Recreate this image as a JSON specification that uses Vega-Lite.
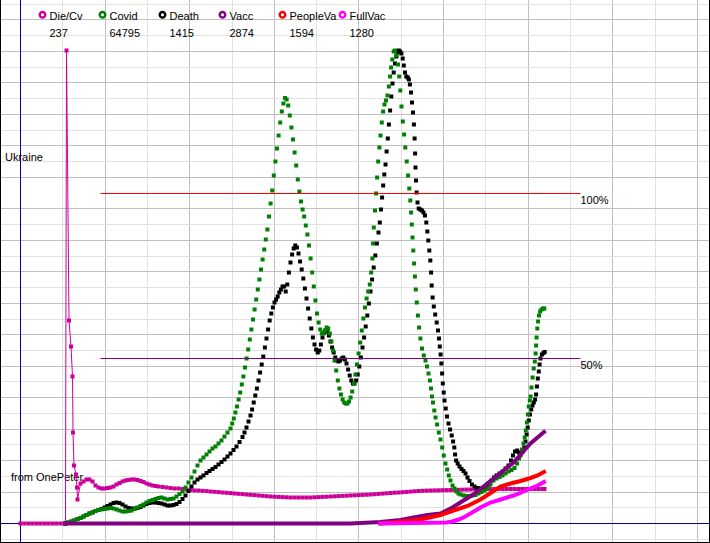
{
"$schema":"https://vega.github.io/schema/vega-lite/v6.json",
"width":710,"height":543,"padding":0,"autosize":{"type":"none"},
"background":"white",
"config":{"view":{"stroke":null},"text":{"font":"Liberation Sans"}},
"datasets":{
"gridx":[{"t":0},{"t":42},{"t":85},{"t":127},{"t":169},{"t":212},{"t":254},{"t":296},{"t":338},{"t":381},{"t":423},{"t":465},{"t":508},{"t":550},{"t":592},{"t":635},{"t":677}],
"gridy":[{"v":-16},{"v":16},{"v":31},{"v":47},{"v":63},{"v":79},{"v":94},{"v":110},{"v":126},{"v":142},{"v":157},{"v":173},{"v":189},{"v":204},{"v":220},{"v":236},{"v":252},{"v":267},{"v":283},{"v":299},{"v":315},{"v":346},{"v":362},{"v":378},{"v":393},{"v":409},{"v":425},{"v":441},{"v":456},{"v":472},{"v":488},{"v":504},{"v":519}],
"framex":[{"t":-20},{"t":689}],
"framey":[{"v":-19}],
"diecv":[{"t":0,"v":0},{"t":4,"v":0},{"t":8,"v":0},{"t":12,"v":0},{"t":16,"v":0},{"t":20,"v":0},{"t":24,"v":0},{"t":28,"v":0},{"t":32,"v":0},{"t":36,"v":0},{"t":40,"v":0},{"t":44,"v":0},{"t":45,"v":0},{"t":46,"v":473},{"t":48.5,"v":203},{"t":50.5,"v":177},{"t":52,"v":147},{"t":52.5,"v":91},{"t":53.5,"v":58},{"t":55.5,"v":49},{"t":56.5,"v":36},{"t":57,"v":24},{"t":60,"v":40},{"t":63,"v":42},{"t":66,"v":44},{"t":69,"v":44},{"t":72,"v":42},{"t":75,"v":38},{"t":78,"v":36},{"t":81,"v":35},{"t":84,"v":35},{"t":87,"v":35.5},{"t":90,"v":36},{"t":93,"v":37},{"t":96,"v":39},{"t":99,"v":40.5},{"t":102,"v":42},{"t":105,"v":43},{"t":108,"v":43.5},{"t":111,"v":44},{"t":114,"v":44},{"t":117,"v":43.5},{"t":120,"v":42.5},{"t":123,"v":41.5},{"t":126,"v":40},{"t":129,"v":39},{"t":132,"v":38},{"t":135,"v":37.5},{"t":138,"v":37},{"t":142,"v":36.5},{"t":146,"v":36},{"t":150,"v":35.5},{"t":154,"v":35},{"t":158,"v":35},{"t":162,"v":34.5},{"t":166,"v":34},{"t":170,"v":33.5},{"t":174,"v":33},{"t":178,"v":33},{"t":182,"v":32.7},{"t":186,"v":32.4},{"t":190,"v":32},{"t":194,"v":31.7},{"t":198,"v":31.4},{"t":202,"v":31},{"t":206,"v":30.7},{"t":210,"v":30.4},{"t":214,"v":30},{"t":218,"v":29.7},{"t":222,"v":29.4},{"t":226,"v":29},{"t":230,"v":28.7},{"t":234,"v":28.4},{"t":238,"v":28},{"t":242,"v":27.7},{"t":246,"v":27.4},{"t":250,"v":27},{"t":254,"v":26.8},{"t":258,"v":26.6},{"t":262,"v":26.4},{"t":266,"v":26.2},{"t":270,"v":26},{"t":274,"v":26},{"t":278,"v":26},{"t":282,"v":26},{"t":286,"v":26},{"t":290,"v":26},{"t":294,"v":26.2},{"t":298,"v":26.4},{"t":302,"v":26.6},{"t":306,"v":26.8},{"t":310,"v":27},{"t":314,"v":27.2},{"t":318,"v":27.4},{"t":322,"v":27.6},{"t":326,"v":27.8},{"t":330,"v":28},{"t":334,"v":28.2},{"t":338,"v":28.4},{"t":342,"v":28.6},{"t":346,"v":28.8},{"t":350,"v":29},{"t":354,"v":29.3},{"t":358,"v":29.6},{"t":362,"v":29.9},{"t":366,"v":30.2},{"t":370,"v":30.5},{"t":374,"v":30.8},{"t":378,"v":31},{"t":382,"v":31.3},{"t":386,"v":31.6},{"t":390,"v":31.9},{"t":394,"v":32.2},{"t":398,"v":32.5},{"t":402,"v":32.7},{"t":406,"v":32.9},{"t":410,"v":33},{"t":414,"v":33.1},{"t":418,"v":33.2},{"t":422,"v":33.3},{"t":426,"v":33.4},{"t":430,"v":33.5},{"t":434,"v":33.6},{"t":438,"v":33.7},{"t":442,"v":33.8},{"t":446,"v":33.9},{"t":450,"v":34},{"t":454,"v":34.1},{"t":458,"v":34.2},{"t":462,"v":34.3},{"t":466,"v":34.4},{"t":470,"v":34.4},{"t":474,"v":34.5},{"t":478,"v":34.5},{"t":482,"v":34.5},{"t":486,"v":34.5},{"t":490,"v":34.5},{"t":494,"v":34.5},{"t":498,"v":34.5},{"t":502,"v":34.5},{"t":506,"v":34.5},{"t":510,"v":34.5},{"t":514,"v":34.5},{"t":518,"v":34.5},{"t":522,"v":34.5},{"t":524,"v":34.5}],
"covid":[{"t":45,"v":0},{"t":48,"v":1},{"t":51,"v":2},{"t":54,"v":3},{"t":57,"v":4.5},{"t":60,"v":5.5},{"t":63,"v":7},{"t":66,"v":8.5},{"t":69,"v":10},{"t":72,"v":11},{"t":75,"v":12.5},{"t":78,"v":13.5},{"t":81,"v":14},{"t":84,"v":14.5},{"t":87,"v":15},{"t":90,"v":15.5},{"t":93,"v":15},{"t":96,"v":14},{"t":99,"v":13},{"t":102,"v":12},{"t":105,"v":12},{"t":108,"v":12.5},{"t":111,"v":13},{"t":114,"v":14.5},{"t":117,"v":16},{"t":120,"v":17.5},{"t":123,"v":19},{"t":126,"v":21},{"t":129,"v":22.5},{"t":132,"v":23.5},{"t":135,"v":24.5},{"t":138,"v":25.5},{"t":141,"v":26},{"t":144,"v":25},{"t":147,"v":24},{"t":150,"v":24.5},{"t":153,"v":25},{"t":156,"v":27},{"t":159,"v":29.5},{"t":162,"v":32},{"t":165,"v":36},{"t":168,"v":41},{"t":171,"v":46},{"t":174,"v":52},{"t":177,"v":58},{"t":180,"v":63},{"t":183,"v":66},{"t":186,"v":69},{"t":189,"v":72},{"t":192,"v":75},{"t":195,"v":77},{"t":198,"v":80},{"t":201,"v":83},{"t":204,"v":87},{"t":207,"v":91},{"t":210,"v":95},{"t":211.7,"v":100},{"t":213.3,"v":105},{"t":214.9,"v":111},{"t":216.5,"v":117},{"t":218.1,"v":124},{"t":219.7,"v":131},{"t":221.3,"v":139},{"t":222.9,"v":147},{"t":224.5,"v":156},{"t":226.1,"v":165},{"t":227.7,"v":174},{"t":229.3,"v":184},{"t":230.9,"v":194},{"t":232.5,"v":204},{"t":234.1,"v":214},{"t":235.7,"v":224},{"t":237.3,"v":234},{"t":238.9,"v":244},{"t":240.5,"v":254},{"t":242.1,"v":264},{"t":243.7,"v":274},{"t":245.3,"v":284},{"t":246.9,"v":294},{"t":248.5,"v":307},{"t":250.1,"v":320},{"t":251.7,"v":333},{"t":253.3,"v":348},{"t":254.9,"v":362},{"t":256.5,"v":375},{"t":258.1,"v":388},{"t":259.7,"v":401},{"t":261.3,"v":412},{"t":262.9,"v":420},{"t":264.5,"v":425.5},{"t":266.1,"v":424},{"t":267.7,"v":418},{"t":269.3,"v":408},{"t":270.9,"v":396},{"t":272.5,"v":384},{"t":274.1,"v":371},{"t":275.7,"v":358},{"t":277.3,"v":344},{"t":278.9,"v":332},{"t":280.5,"v":322},{"t":282.1,"v":314},{"t":283.7,"v":307},{"t":285.3,"v":298},{"t":286.9,"v":289},{"t":288.5,"v":278},{"t":290.1,"v":265},{"t":291.7,"v":251},{"t":293.3,"v":237},{"t":294.9,"v":223},{"t":296.5,"v":210},{"t":298.1,"v":201},{"t":299.7,"v":194},{"t":301.3,"v":190},{"t":302.9,"v":190},{"t":304.5,"v":193},{"t":306.1,"v":196},{"t":307.7,"v":195},{"t":309.3,"v":190},{"t":310.9,"v":182},{"t":312.5,"v":173},{"t":314.1,"v":163},{"t":315.7,"v":153},{"t":317.3,"v":143},{"t":318.9,"v":135},{"t":320.5,"v":129},{"t":322.1,"v":124},{"t":323.7,"v":121},{"t":325.3,"v":120},{"t":326.9,"v":120},{"t":328.5,"v":122},{"t":330.1,"v":126},{"t":331.7,"v":132},{"t":333.3,"v":140},{"t":334.9,"v":149},{"t":336.5,"v":159},{"t":338.1,"v":170},{"t":339.7,"v":181},{"t":341.3,"v":193},{"t":342.9,"v":205},{"t":344.5,"v":216},{"t":346.1,"v":225},{"t":347.7,"v":232},{"t":349.3,"v":239},{"t":350.7,"v":251},{"t":351.9,"v":265},{"t":352.6,"v":280},{"t":353.3,"v":296},{"t":354.5,"v":313},{"t":355.6,"v":330},{"t":356.6,"v":346},{"t":357.7,"v":362},{"t":358.9,"v":376},{"t":360,"v":388},{"t":361.3,"v":401},{"t":362.6,"v":412},{"t":364,"v":419},{"t":365.5,"v":423},{"t":367,"v":428},{"t":368.4,"v":437},{"t":369.6,"v":447},{"t":370.6,"v":456},{"t":371.8,"v":464},{"t":373.2,"v":472},{"t":374.6,"v":473},{"t":376,"v":468},{"t":377.5,"v":459},{"t":378.7,"v":447},{"t":379.8,"v":433},{"t":381,"v":417},{"t":382.3,"v":402},{"t":383.6,"v":389},{"t":384.8,"v":376},{"t":386.2,"v":362},{"t":387.6,"v":348},{"t":388.8,"v":335},{"t":389.8,"v":323},{"t":390.6,"v":311},{"t":391.3,"v":299},{"t":392,"v":286},{"t":392.8,"v":273},{"t":393.6,"v":260},{"t":394.4,"v":247},{"t":395.3,"v":234},{"t":396.3,"v":221},{"t":397.4,"v":208},{"t":398.6,"v":196},{"t":399.9,"v":185},{"t":401.5,"v":175},{"t":403.3,"v":168},{"t":405,"v":163},{"t":406.5,"v":157},{"t":408,"v":150},{"t":409.4,"v":143},{"t":410.5,"v":135},{"t":411.5,"v":127},{"t":412.5,"v":121},{"t":413.8,"v":113},{"t":415,"v":106},{"t":416.6,"v":99},{"t":418.3,"v":91},{"t":420,"v":84},{"t":421.7,"v":76},{"t":423.3,"v":68},{"t":425,"v":60},{"t":426.7,"v":54},{"t":428.3,"v":48},{"t":430,"v":43},{"t":432,"v":38},{"t":434,"v":35},{"t":436,"v":32},{"t":438,"v":30},{"t":440,"v":29},{"t":443,"v":28},{"t":446,"v":27.5},{"t":449,"v":27.5},{"t":452,"v":28},{"t":455,"v":28.5},{"t":458,"v":30},{"t":461,"v":31.5},{"t":464,"v":33},{"t":467,"v":35},{"t":470,"v":39},{"t":473,"v":43},{"t":476,"v":45},{"t":479,"v":46.5},{"t":482,"v":48},{"t":485,"v":50},{"t":488,"v":52},{"t":491,"v":53.5},{"t":494,"v":55.5},{"t":496.5,"v":60},{"t":498.5,"v":65},{"t":500,"v":68},{"t":501.5,"v":74},{"t":503,"v":80},{"t":504.2,"v":86},{"t":505.3,"v":93},{"t":506.4,"v":101},{"t":507.4,"v":109},{"t":508.3,"v":117},{"t":509.3,"v":123},{"t":510.1,"v":127},{"t":511,"v":136},{"t":512.1,"v":146},{"t":513.2,"v":155},{"t":514.3,"v":162},{"t":515.1,"v":170},{"t":515.6,"v":178},{"t":516.1,"v":186},{"t":516.8,"v":195},{"t":517.6,"v":202},{"t":518.5,"v":208},{"t":519.6,"v":212},{"t":521,"v":214},{"t":522.6,"v":215},{"t":523.8,"v":215}],
"death":[{"t":45,"v":0},{"t":48,"v":1},{"t":51,"v":2},{"t":54,"v":3},{"t":57,"v":4.5},{"t":60,"v":5.5},{"t":63,"v":7},{"t":66,"v":8.5},{"t":69,"v":10},{"t":72,"v":11},{"t":75,"v":12.5},{"t":78,"v":13.5},{"t":81,"v":14.5},{"t":84,"v":16},{"t":87,"v":17.5},{"t":90,"v":19},{"t":93,"v":20.5},{"t":96,"v":21},{"t":99,"v":20.5},{"t":102,"v":19},{"t":105,"v":17},{"t":108,"v":15.5},{"t":111,"v":15},{"t":114,"v":15},{"t":117,"v":15.5},{"t":120,"v":16.5},{"t":123,"v":18},{"t":126,"v":19.5},{"t":129,"v":20.5},{"t":132,"v":21},{"t":135,"v":21},{"t":138,"v":20.5},{"t":141,"v":20},{"t":144,"v":19},{"t":147,"v":18},{"t":150,"v":18},{"t":153,"v":18.5},{"t":156,"v":19.5},{"t":159,"v":21.5},{"t":162,"v":24.5},{"t":165,"v":28},{"t":168,"v":32.5},{"t":171,"v":37},{"t":174,"v":41},{"t":177,"v":44},{"t":180,"v":46},{"t":183,"v":48},{"t":186,"v":50.5},{"t":189,"v":52.5},{"t":192,"v":54.5},{"t":195,"v":56.5},{"t":198,"v":59},{"t":201,"v":61.5},{"t":204,"v":64},{"t":207,"v":67},{"t":210,"v":70},{"t":213,"v":73.5},{"t":216,"v":77},{"t":219,"v":81.5},{"t":222,"v":86.5},{"t":224,"v":91},{"t":226,"v":96},{"t":228,"v":102},{"t":230,"v":108},{"t":231.6,"v":114},{"t":233.2,"v":121},{"t":234.8,"v":128},{"t":236.4,"v":135},{"t":238,"v":143},{"t":239.6,"v":151},{"t":241.2,"v":159},{"t":242.8,"v":167},{"t":244.4,"v":176},{"t":246,"v":185},{"t":247.6,"v":194},{"t":249.2,"v":203},{"t":250.8,"v":210},{"t":252.4,"v":216},{"t":254,"v":221},{"t":255.6,"v":224},{"t":257.2,"v":227},{"t":258.8,"v":231},{"t":260.4,"v":234},{"t":262,"v":237},{"t":263.6,"v":237},{"t":265.2,"v":232},{"t":266.8,"v":239},{"t":268.4,"v":251},{"t":270,"v":261},{"t":271.6,"v":269},{"t":273.2,"v":275},{"t":274.8,"v":278},{"t":276.4,"v":276},{"t":278,"v":270},{"t":279.6,"v":262},{"t":281.2,"v":254},{"t":282.8,"v":245},{"t":284.4,"v":235},{"t":286,"v":225},{"t":287.6,"v":215},{"t":289.2,"v":205},{"t":290.8,"v":195},{"t":292.4,"v":186},{"t":294,"v":179},{"t":295.6,"v":174},{"t":297.2,"v":171},{"t":298.8,"v":173},{"t":300.4,"v":179},{"t":302,"v":186},{"t":303.6,"v":191},{"t":305.2,"v":193},{"t":306.8,"v":192},{"t":308.4,"v":188},{"t":310,"v":182},{"t":311.6,"v":176},{"t":313.2,"v":171},{"t":314.8,"v":166},{"t":316.4,"v":163},{"t":318,"v":162},{"t":319.6,"v":163},{"t":321.2,"v":165},{"t":322.8,"v":166},{"t":324.4,"v":164},{"t":326,"v":160},{"t":327.6,"v":154},{"t":329.2,"v":148},{"t":330.8,"v":143},{"t":332.4,"v":140},{"t":334,"v":140},{"t":335.6,"v":143},{"t":337.2,"v":149},{"t":338.8,"v":157},{"t":340.4,"v":166},{"t":342,"v":176},{"t":343.6,"v":186},{"t":345.2,"v":197},{"t":346.8,"v":208},{"t":348.4,"v":220},{"t":350,"v":232},{"t":351.6,"v":244},{"t":353.2,"v":256},{"t":354.8,"v":268},{"t":356.4,"v":280},{"t":358,"v":291},{"t":359.3,"v":301},{"t":360.5,"v":314},{"t":361.6,"v":326},{"t":362.7,"v":338},{"t":363.8,"v":349},{"t":365,"v":359},{"t":366.1,"v":372},{"t":367.3,"v":385},{"t":368.4,"v":399},{"t":369.6,"v":413},{"t":370.8,"v":427},{"t":372,"v":440},{"t":373.2,"v":451},{"t":374.5,"v":460},{"t":375.8,"v":467},{"t":377,"v":471},{"t":378.3,"v":473},{"t":379.6,"v":472},{"t":380.9,"v":470},{"t":382.2,"v":465},{"t":383.3,"v":458},{"t":384.5,"v":451},{"t":385.8,"v":447},{"t":387.2,"v":446},{"t":388.4,"v":444},{"t":389.4,"v":439},{"t":390.5,"v":431},{"t":391.5,"v":421},{"t":392.5,"v":411},{"t":393.4,"v":399},{"t":394.1,"v":385},{"t":394.6,"v":370},{"t":395,"v":356},{"t":395.5,"v":343},{"t":396.1,"v":331},{"t":397,"v":321},{"t":398.2,"v":315},{"t":399.8,"v":314},{"t":401.4,"v":313},{"t":403,"v":311},{"t":404.5,"v":308},{"t":405.8,"v":301},{"t":406.8,"v":292},{"t":407.8,"v":283},{"t":408.8,"v":273},{"t":409.8,"v":263},{"t":410.6,"v":251},{"t":411.2,"v":238},{"t":412.1,"v":226},{"t":413.3,"v":217},{"t":414.7,"v":209},{"t":416.2,"v":201},{"t":417.5,"v":193},{"t":418.5,"v":185},{"t":419.3,"v":177},{"t":420.1,"v":169},{"t":420.9,"v":160},{"t":421.6,"v":150},{"t":422.3,"v":140},{"t":423.2,"v":131},{"t":424,"v":123},{"t":425.2,"v":115},{"t":426.5,"v":107},{"t":428,"v":100},{"t":429.6,"v":94},{"t":431.2,"v":88},{"t":432.6,"v":82},{"t":433.8,"v":76},{"t":434.6,"v":69},{"t":435.6,"v":63},{"t":437.2,"v":60},{"t":439,"v":57},{"t":441,"v":54.5},{"t":443,"v":52.5},{"t":445,"v":50},{"t":447,"v":46},{"t":449,"v":42.5},{"t":451.5,"v":39},{"t":454,"v":37},{"t":457,"v":35.5},{"t":460,"v":35},{"t":463,"v":35.5},{"t":466,"v":36},{"t":468.5,"v":39},{"t":471,"v":43},{"t":473.5,"v":46},{"t":476,"v":48},{"t":479,"v":50},{"t":482,"v":52},{"t":485,"v":55},{"t":488,"v":58},{"t":490.5,"v":63},{"t":492.5,"v":68},{"t":494.5,"v":72},{"t":496.7,"v":73},{"t":498.5,"v":71},{"t":500.5,"v":70},{"t":502.3,"v":72},{"t":503.8,"v":76},{"t":505,"v":82},{"t":506.1,"v":89},{"t":507.2,"v":96},{"t":508.3,"v":103},{"t":509.4,"v":109},{"t":510.7,"v":114},{"t":512,"v":118},{"t":513.3,"v":121},{"t":514.6,"v":124},{"t":515.6,"v":129},{"t":516.4,"v":137},{"t":517.3,"v":145},{"t":518.3,"v":152},{"t":519.1,"v":159},{"t":520,"v":165},{"t":521.4,"v":169},{"t":523,"v":170.5},{"t":524.2,"v":171.5}],
"vacc":[{"t":45,"v":0},{"t":330,"v":0},{"t":360,"v":1.5},{"t":380,"v":3.5},{"t":393,"v":6},{"t":407,"v":8.5},{"t":420,"v":10},{"t":432,"v":16},{"t":443,"v":23},{"t":452,"v":28.5},{"t":460,"v":34.5},{"t":468,"v":41},{"t":477,"v":48},{"t":485,"v":54.5},{"t":493,"v":61},{"t":501,"v":70},{"t":510,"v":80},{"t":517,"v":86},{"t":523.5,"v":91.5}],
"peopleva":[{"t":360,"v":0},{"t":400,"v":4},{"t":420,"v":8.5},{"t":433,"v":13},{"t":447,"v":17.5},{"t":460,"v":24},{"t":470,"v":30.5},{"t":480,"v":37},{"t":490,"v":40},{"t":500,"v":42.5},{"t":510,"v":45.5},{"t":517,"v":48},{"t":523.5,"v":51.5}],
"fullvac":[{"t":360,"v":0},{"t":426,"v":1},{"t":432,"v":2},{"t":438,"v":4},{"t":443,"v":6},{"t":450,"v":10},{"t":460,"v":16},{"t":470,"v":21},{"t":477,"v":23},{"t":485,"v":25.5},{"t":493,"v":28},{"t":502,"v":31.5},{"t":510,"v":35},{"t":517,"v":38},{"t":523.5,"v":41.5}],
"notes":[{"label":"Ukraine","t":-15.5,"v":362.8},{"label":"from OnePeter","t":-9.5,"v":42.5},{"label":"100%","t":560,"v":319.5},{"label":"50%","t":560,"v":154.5}],
"origin":[{"t":0,"v":0}]
},
"layer":[
{"data":{"name":"gridx"},"mark":{"type":"rule","strokeWidth":1},
"encoding":{"x":{"field":"t","type":"quantitative","axis":null,"scale":{"domain":[-20.5,689.5],"nice":false,"zero":false}},
"stroke":{"condition":{"test":"round(datum.t/42.3)%2==0","value":"#c0c0c0"},"value":"#e2e2e2"}}},
{"data":{"name":"gridy"},"mark":{"type":"rule","strokeWidth":1},
"encoding":{"y":{"field":"v","type":"quantitative","axis":null,"scale":{"domain":[-19.5,523.5],"nice":false,"zero":false}},
"stroke":{"condition":{"test":"round(datum.v/15.74)%2==0","value":"#c0c0c0"},"value":"#e2e2e2"}}},
{"data":{"name":"framex"},"mark":{"type":"rule","strokeWidth":1,"stroke":"black"},
"encoding":{"x":{"field":"t","type":"quantitative","axis":null}}},
{"data":{"name":"framey"},"mark":{"type":"rule","strokeWidth":1,"stroke":"black"},
"encoding":{"y":{"field":"v","type":"quantitative","axis":null}}},
{"data":{"name":"origin"},"mark":{"type":"rule","strokeWidth":1},
"encoding":{"x":{"field":"t","type":"quantitative","axis":null},"stroke":{"value":"#000080"}}},
{"data":{"name":"origin"},"mark":{"type":"rule","strokeWidth":1},
"encoding":{"y":{"field":"v","type":"quantitative","axis":null},"stroke":{"value":"#000080"}}},
{"data":{"name":"notes"},"mark":{"type":"text","align":"left","baseline":"alphabetic","fontSize":11,"font":"Liberation Sans"},
"encoding":{"x":{"field":"t","type":"quantitative","axis":null},"y":{"field":"v","type":"quantitative","axis":null},"text":{"field":"label"},"fill":{"value":"black"}}},
{"data":{"name":"diecv"},"mark":{"type":"point","shape":"square","filled":true,"size":16,"opacity":1},
"encoding":{"x":{"field":"t","type":"quantitative","axis":null},"y":{"field":"v","type":"quantitative","axis":null},
"color":{"datum":"Die/Cv","type":"nominal","scale":{"domain":["Die/Cv","Covid","Death","Vacc","PeopleVa","FullVac"],"range":["#cc0099","#008000","#000000","#800080","#ff0000","#ff00ff"]},
"legend":{"title":null,"orient":"none","legendX":37,"legendY":9,"direction":"horizontal","columns":6,"gridAlign":"all","columnPadding":0,"padding":0,
"symbolType":"M-1,0A1,1 0 1,1 1,0A1,1 0 1,1 -1,0ZM-0.4,0A0.4,0.4 0 1,0 0.4,0A0.4,0.4 0 1,0 -0.4,0Z","symbolSize":64,"symbolStrokeWidth":0,"symbolOpacity":1,
"labelFont":"Liberation Sans","labelFontSize":11,"labelColor":"black","labelBaseline":"alphabetic","labelOffset":1.5,
"labelExpr":"[datum.label, datum.label == 'Die/Cv' ? '237' : datum.label == 'Covid' ? '64795' : datum.label == 'Death' ? '1415' : datum.label == 'Vacc' ? '2874' : datum.label == 'PeopleVa' ? '1594' : '1280']",
"encode":{"labels":{"update":{"dy":{"value":5},"lineHeight":{"value":17}}}}}}}},
{"data":{"name":"diecv"},"mark":{"type":"line","strokeWidth":1},
"encoding":{"x":{"field":"t","type":"quantitative","axis":null},"y":{"field":"v","type":"quantitative","axis":null},"color":{"datum":"Die/Cv","type":"nominal"}}},
{"data":{"name":"death"},"mark":{"type":"point","shape":"square","filled":true,"size":16,"opacity":1},
"encoding":{"x":{"field":"t","type":"quantitative","axis":null},"y":{"field":"v","type":"quantitative","axis":null},"color":{"datum":"Death","type":"nominal"}}},
{"data":{"name":"covid"},"mark":{"type":"point","shape":"square","filled":true,"size":16,"opacity":1},
"encoding":{"x":{"field":"t","type":"quantitative","axis":null},"y":{"field":"v","type":"quantitative","axis":null},"color":{"datum":"Covid","type":"nominal"}}},
{"data":{"name":"vacc"},"mark":{"type":"line","strokeWidth":4,"strokeCap":"square"},
"encoding":{"x":{"field":"t","type":"quantitative","axis":null},"y":{"field":"v","type":"quantitative","axis":null},"color":{"datum":"Vacc","type":"nominal"}}},
{"data":{"name":"peopleva"},"mark":{"type":"line","strokeWidth":4,"strokeCap":"square"},
"encoding":{"x":{"field":"t","type":"quantitative","axis":null},"y":{"field":"v","type":"quantitative","axis":null},"color":{"datum":"PeopleVa","type":"nominal"}}},
{"data":{"name":"fullvac"},"mark":{"type":"line","strokeWidth":4,"strokeCap":"square"},
"encoding":{"x":{"field":"t","type":"quantitative","axis":null},"y":{"field":"v","type":"quantitative","axis":null},"color":{"datum":"FullVac","type":"nominal"}}},
{"data":{"values":[{"level":"100%","t":80,"t2":560,"v":330}]},"mark":{"type":"rule","strokeWidth":1,"stroke":"red","opacity":1},
"encoding":{"x":{"field":"t","type":"quantitative","axis":null},"x2":{"field":"t2"},"y":{"field":"v","type":"quantitative","axis":null}}},
{"data":{"values":[{"level":"50%","t":80,"t2":560,"v":165}]},"mark":{"type":"rule","strokeWidth":1,"stroke":"#800080","opacity":1},
"encoding":{"x":{"field":"t","type":"quantitative","axis":null},"x2":{"field":"t2"},"y":{"field":"v","type":"quantitative","axis":null}}}
]
}
